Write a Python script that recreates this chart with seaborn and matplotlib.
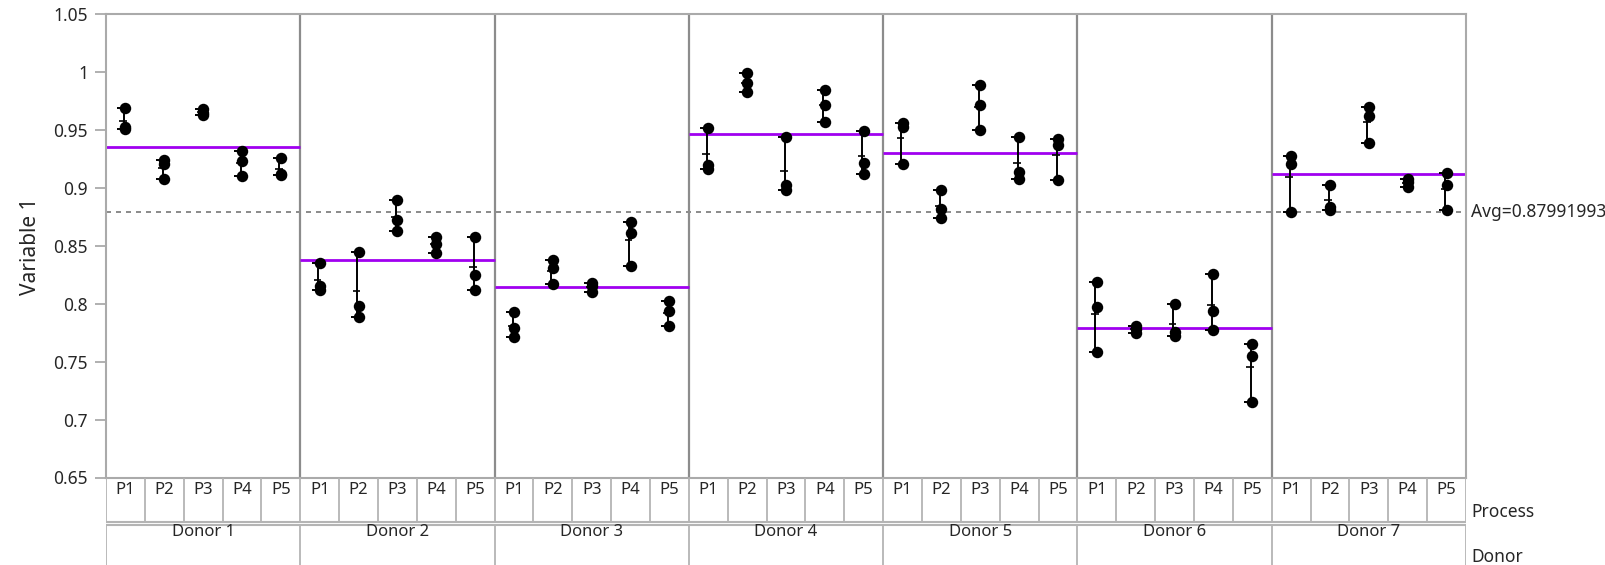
import numpy as np
import pandas as pd
import matplotlib
matplotlib.use("Agg")
import matplotlib.pyplot as plt
import seaborn as sns

# categories
donors = ["Donor 1", "Donor 2", "Donor 3", "Donor 4", "Donor 5", "Donor 6", "Donor 7"]
processes = ["P1", "P2", "P3", "P4", "P5"]

# three readings per process
donor1 = [[0.969, 0.953, 0.951], [0.924, 0.921, 0.908], [0.968, 0.965, 0.963],
          [0.932, 0.923, 0.910], [0.926, 0.912, 0.911]]
donor2 = [[0.835, 0.815, 0.812], [0.845, 0.798, 0.789], [0.890, 0.872, 0.863],
          [0.858, 0.852, 0.844], [0.858, 0.825, 0.812]]
donor3 = [[0.793, 0.779, 0.771], [0.838, 0.831, 0.817], [0.818, 0.815, 0.810],
          [0.871, 0.861, 0.833], [0.802, 0.794, 0.781]]
donor4 = [[0.952, 0.920, 0.916], [0.999, 0.991, 0.983], [0.944, 0.903, 0.898],
          [0.985, 0.972, 0.957], [0.949, 0.922, 0.912]]
donor5 = [[0.956, 0.953, 0.921], [0.898, 0.882, 0.874], [0.989, 0.972, 0.950],
          [0.944, 0.914, 0.908], [0.942, 0.937, 0.907]]
donor6 = [[0.819, 0.797, 0.758], [0.781, 0.778, 0.775], [0.800, 0.776, 0.772],
          [0.826, 0.794, 0.777], [0.765, 0.755, 0.715]]
donor7 = [[0.928, 0.921, 0.879], [0.903, 0.884, 0.881], [0.970, 0.962, 0.939],
          [0.908, 0.905, 0.901], [0.913, 0.903, 0.881]]
all_donors = [donor1, donor2, donor3, donor4, donor5, donor6, donor7]

avg_label = "Avg=0.87991993"

ticks = [0.65, 0.7, 0.75, 0.8, 0.85, 0.9, 0.95, 1.0, 1.05]
tick_labels = ["0.65", "0.7", "0.75", "0.8", "0.85", "0.9", "0.95", "1", "1.05"]

# long table for seaborn
rows = []
for d, dvals in enumerate(all_donors):
    for p, vals in enumerate(dvals):
        for v in vals:
            rows.append({"Donor": donors[d], "Process": processes[p],
                         "pos": d * len(processes) + p + 0.5, "Value": v})
df = pd.DataFrame(rows)

sns.set_style("white")
plt.rcParams["font.family"] = ["Noto Sans", "DejaVu Sans"]

W, H = 1606, 565
left, right, top, bottom = 106, 1466, 14.3, 477.5
ncell = len(donors) * len(processes)

fig = plt.figure(figsize=(W / 100, H / 100), dpi=100)
ax = fig.add_axes([left / W, 1 - bottom / H, (right - left) / W, (bottom - top) / H])

# range bars with min/max ticks and mean cross
cell = df.groupby("pos")["Value"].agg(["min", "max", "mean"]).reset_index()
xb = cell["pos"] - 0.035
ax.vlines(xb, cell["min"], cell["max"], color="black", lw=1.4, zorder=2)
ax.hlines(cell["min"], xb - 0.17, xb, color="black", lw=1.4, zorder=2)
ax.hlines(cell["max"], xb - 0.17, xb, color="black", lw=1.4, zorder=2)
ax.hlines(cell["mean"], xb - 0.12, xb + 0.08, color="black", lw=1.2, zorder=2)

sns.scatterplot(data=df, x="pos", y="Value", color="black", s=68,
                linewidth=0, ax=ax, zorder=3, legend=False)

# donor means and grand mean
dmeans = df.groupby("Donor", sort=False)["Value"].mean()
for d, m in enumerate(dmeans):
    ax.hlines(m, d * 5, d * 5 + 5, color="#A000F0", lw=2, zorder=1)
grand = dmeans.mean()
ax.axhline(grand, color="#777777", ls=(0, (3, 3)), lw=1.2, zorder=0)
ax.annotate(avg_label, xy=(1471 / W, grand), xycoords=("figure fraction", "data"),
            va="center", ha="left", fontsize=12.5, annotation_clip=False)

for d in range(1, len(donors)):
    ax.axvline(d * 5, color="#8c8c8c", lw=1.6, zorder=0)

ax.set_xlim(0, ncell)
ax.set_ylim(0.65, 1.05)
ax.set_xticks([])
ax.set_yticks(ticks)
ax.set_yticklabels(tick_labels)
ax.tick_params(axis="y", length=8, width=1.3, color="#aaaaaa", labelsize=12.5, pad=5,
               left=True)
ax.set_xlabel("")
ax.set_ylabel("Variable 1", fontsize=15, labelpad=9)
for s in ax.spines.values():
    s.set_color("#aaaaaa")
    s.set_linewidth(1.5)

# label table below the plot
ax2 = fig.add_axes([left / W, 0, (right - left) / W, (H - bottom) / H])
ax2.set_xlim(0, ncell)
ax2.set_ylim(H, bottom)
ax2.axis("off")
gray = "#b4b4b4"
ax2.hlines([521.5, 525], 0, ncell, color=gray, lw=1.5)
for i in range(ncell + 1):
    ax2.vlines(i, bottom, 521.5, color=gray, lw=1.3)
for d in range(len(donors) + 1):
    ax2.vlines(d * 5, 525, H, color=gray, lw=1.3)
for i in range(ncell):
    ax2.text(i + 0.5, 490, processes[i % 5], ha="center", va="center", fontsize=12)
for d in range(len(donors)):
    ax2.text(d * 5 + 2.5, 532, donors[d], ha="center", va="center", fontsize=12)

fig.text(1471 / W, 1 - 512 / H, "Process", ha="left", va="center", fontsize=12.5)
fig.text(1471 / W, 1 - 557 / H, "Donor", ha="left", va="center", fontsize=12.5)

fig.savefig("out.png", dpi=100)
